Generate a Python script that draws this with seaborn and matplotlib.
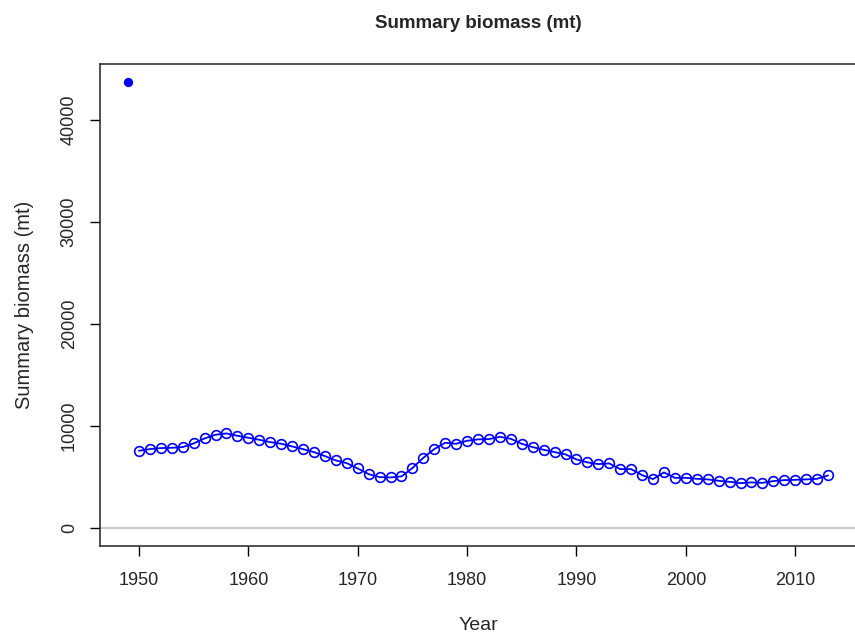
import numpy as np
import pandas as pd
import seaborn as sns
import matplotlib
matplotlib.use("Agg")
import matplotlib.pyplot as plt

# virgin / initial biomass point
init_year = [1949]
init_biomass = [43725]

# time series of summary biomass
years = list(range(1950, 2014))
biomass = [7580, 7745, 7843, 7875, 7941, 8300, 8790, 9150, 9280, 9050,
           8855, 8660, 8430, 8268, 8005, 7745, 7450, 7060, 6635, 6370,
           5850, 5294, 5000, 4970, 5070, 5880, 6890, 7745, 8365, 8265,
           8560, 8695, 8725, 8950, 8755, 8265, 7940, 7680, 7450, 7225,
           6735, 6440, 6275, 6340, 5785, 5785, 5196, 4804, 5460, 4930,
           4930, 4835, 4775, 4640, 4540, 4410, 4480, 4440, 4610, 4705,
           4735, 4775, 4835, 5165]

df = pd.DataFrame({"Year": years, "Biomass": biomass})
df0 = pd.DataFrame({"Year": init_year, "Biomass": init_biomass})

sns.set_style("ticks")
plt.rcParams['font.family'] = ['Liberation Sans', 'DejaVu Sans']

fig = plt.figure(figsize=(8.55, 6.4), dpi=100)
ax = fig.add_axes([100/855, 94/640, 756/855, 482/640])

# zero line
ax.axhline(0, color="#cccccc", lw=1.5, zorder=0)

sns.lineplot(data=df, x="Year", y="Biomass", ax=ax, color="blue", lw=1.3,
             marker="o", markersize=7, markerfacecolor="none",
             markeredgecolor="blue", markeredgewidth=1.2)
sns.scatterplot(data=df0, x="Year", y="Biomass", ax=ax, color="blue",
                s=45, edgecolor="blue", linewidth=0)

ax.set_xlim(1946.44, 2015.56)
ax.set_ylim(-1749, 45474)
ax.set_xticks([1950, 1960, 1970, 1980, 1990, 2000, 2010])
ax.set_yticks([0, 10000, 20000, 30000, 40000])
ax.set_yticklabels(["0", "10000", "20000", "30000", "40000"], rotation=90, va="center")
ax.tick_params(axis="x", labelsize=13, length=7, width=1, color="black", pad=12)
ax.tick_params(axis="y", labelsize=13, length=7, width=1, color="black", pad=9)

for s in ax.spines.values():
    s.set_color("#333333")
    s.set_linewidth(1.2)

ax.set_xlabel("Year", fontsize=14, labelpad=20)
ax.set_ylabel("Summary biomass (mt)", fontsize=14.5, labelpad=19)
ax.set_title("Summary biomass (mt)", fontsize=13.5, fontweight="bold", pad=26)

fig.savefig("out.png", dpi=100)
